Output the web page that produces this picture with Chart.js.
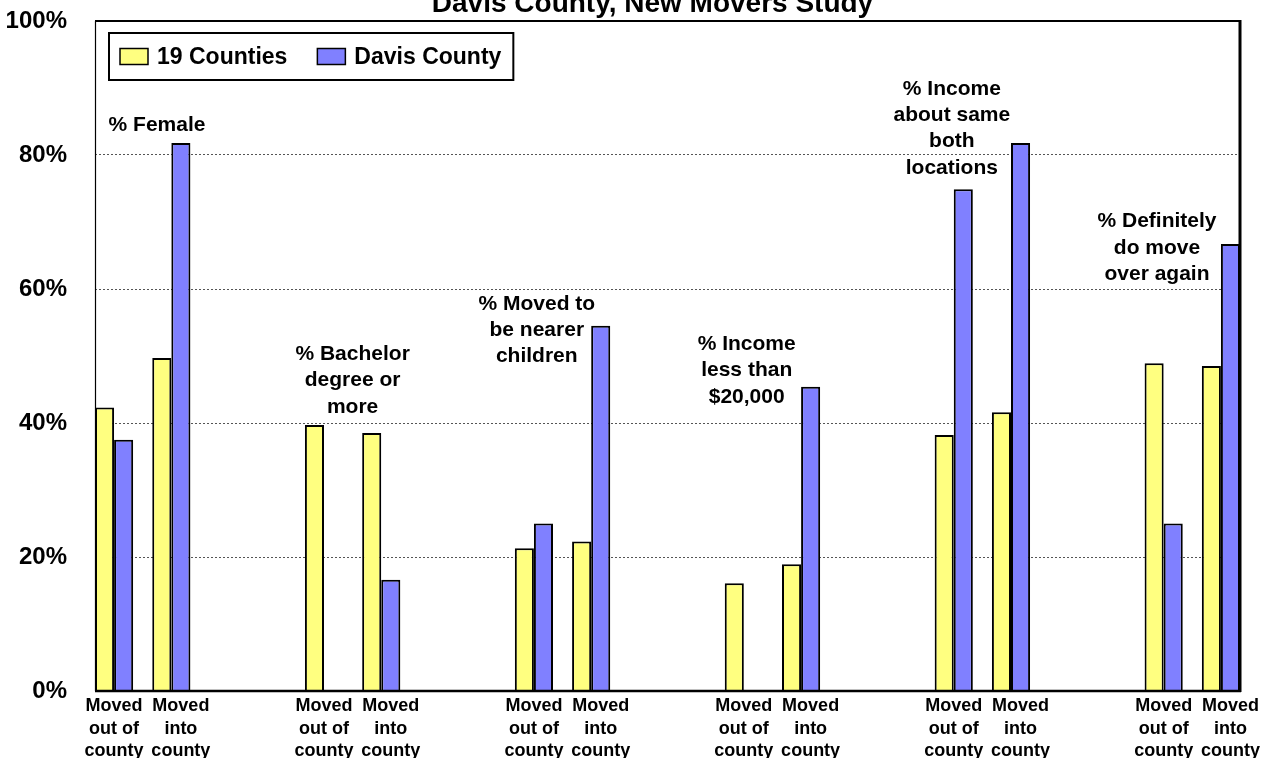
<!DOCTYPE html>
<html><head><meta charset="utf-8">
<script src="https://cdn.jsdelivr.net/npm/chart.js@4/dist/chart.umd.min.js"></script>
<style>html,body{margin:0;padding:0;background:#fff}#wrap{position:relative;width:1271px;height:758px}</style>
</head><body><div id="wrap"><canvas id="c"></canvas></div>
<script>
const chartTitle = 'Davis County, New Movers Study';
const seriesNames = ['19 Counties', 'Davis County'];
const seriesColors = ['#FFFF80', '#8080FF'];
const groupNotes = [
  ['% Female'],
  ['% Bachelor', 'degree or', 'more'],
  ['% Moved to', 'be nearer', 'children'],
  ['% Income', 'less than', '$20,000'],
  ['% Income', 'about same', 'both', 'locations'],
  ['% Definitely', 'do move', 'over again']
];
const categoryOut = ['Moved', 'out of', 'county'];
const categoryInto = ['Moved', 'into', 'county'];
const counties19Out  = [42.3, 39.7, 21.3, 16.1, 38.2, 48.9];
const davisOut       = [37.5, null, 25.0, null, 74.9, 25.0];
const counties19Into = [49.7, 38.5, 22.3, 18.9, 41.6, 48.5];
const davisInto      = [81.8, 16.6, 54.5, 45.4, 81.8, 66.7];
const yTickValues = [0, 20, 40, 60, 80, 100];

// slot layout of the category axis
const SLOTS_PER_GROUP = 22, OUT_SLOT = 2, INTO_SLOT = 8, INTO_LABEL_SLOT = 9, SLOT_COUNT = 121;
// note anchors: [slot position, value of first text baseline]
const noteAnchors = [[6.5, 83.6], [27.0, 49.4], [46.3, 56.9], [68.3, 50.9], [89.8, 89.0], [111.3, 69.2]];

const FONT = "'Liberation Sans', Arial, sans-serif";

const slotLabels = Array.from({length: SLOT_COUNT}, (_, i) => 's' + i);
const tickLabels = Array(SLOT_COUNT).fill('');
const data19 = Array(SLOT_COUNT).fill(null);
const dataDavis = Array(SLOT_COUNT).fill(null);
counties19Out.forEach((v, g) => {
  const s = OUT_SLOT + g * SLOTS_PER_GROUP;
  data19[s] = v; dataDavis[s] = davisOut[g]; tickLabels[s] = categoryOut;
});
counties19Into.forEach((v, g) => {
  const s = INTO_SLOT + g * SLOTS_PER_GROUP;
  data19[s] = v; dataDavis[s] = davisInto[g];
  tickLabels[INTO_LABEL_SLOT + g * SLOTS_PER_GROUP] = categoryInto;
});

const framePlugin = {
  id: 'frame',
  afterDatasetsDraw(chart) {
    const {ctx, chartArea: a} = chart;
    ctx.save();
    ctx.strokeStyle = '#000';
    const line = (x1, y1, x2, y2, w) => { ctx.lineWidth = w; ctx.beginPath(); ctx.moveTo(x1, y1); ctx.lineTo(x2, y2); ctx.stroke(); };
    line(a.left + 0.5, a.top, a.left + 0.5, a.bottom, 1.2);
    line(a.left, a.top, a.right, a.top, 2);
    line(a.right, a.top - 1, a.right, a.bottom + 1, 3);
    line(a.left, a.bottom, a.right + 1, a.bottom, 2.5);
    ctx.restore();
  }
};

const notesPlugin = {
  id: 'notes',
  afterDatasetsDraw(chart) {
    const {ctx} = chart;
    const xs = chart.scales.x, ys = chart.scales.y;
    ctx.save();
    ctx.fillStyle = '#000';
    ctx.font = 'bold 21px ' + FONT;
    ctx.textAlign = 'center';
    ctx.textBaseline = 'alphabetic';
    groupNotes.forEach((lines, i) => {
      const x = xs.getPixelForValue(noteAnchors[i][0]);
      const y = ys.getPixelForValue(noteAnchors[i][1]);
      lines.forEach((t, k) => ctx.fillText(t, x, y + k * 26.3));
    });
    ctx.restore();
  }
};

const legendPlugin = {
  id: 'boxLegend',
  afterDraw(chart) {
    const {ctx, chartArea: a} = chart;
    ctx.save();
    ctx.font = 'bold 23px ' + FONT;
    ctx.textBaseline = 'middle';
    ctx.textAlign = 'left';
    const bx = a.left + 14, by = a.top + 12, bh = 47;
    const cy = by + bh / 2;
    let x = bx + 11;
    const items = chart.data.datasets.map(d => ({label: d.label, color: d.backgroundColor}));
    const pos = [];
    items.forEach((it, i) => {
      pos.push(x);
      x += 28 + 9 + ctx.measureText(it.label).width;
      if (i < items.length - 1) x += 30;
    });
    const bw = x + 12 - bx;
    ctx.fillStyle = '#fff';
    ctx.fillRect(bx, by, bw, bh);
    ctx.lineWidth = 2;
    ctx.strokeStyle = '#000';
    ctx.strokeRect(bx, by, bw, bh);
    items.forEach((it, i) => {
      ctx.fillStyle = it.color;
      ctx.fillRect(pos[i], cy - 8, 28, 16);
      ctx.lineWidth = 1.5;
      ctx.strokeRect(pos[i], cy - 8, 28, 16);
      ctx.fillStyle = '#000';
      ctx.fillText(it.label, pos[i] + 37, cy + 1);
    });
    ctx.restore();
  }
};

const titlePlugin = {
  id: 'cutTitle',
  afterDraw(chart) {
    const {ctx, chartArea: a} = chart;
    ctx.save();
    ctx.font = 'bold 28px ' + FONT;
    ctx.fillStyle = '#000';
    ctx.textAlign = 'center';
    ctx.textBaseline = 'alphabetic';
    ctx.fillText(chartTitle, (a.left + a.right) / 2 - 15, 12);
    ctx.restore();
  }
};

new Chart(document.getElementById('c'), {
  type: 'bar',
  data: {
    labels: slotLabels,
    datasets: [
      {label: seriesNames[0], data: data19, backgroundColor: seriesColors[0], borderColor: '#000', borderWidth: 2, xAxisID: 'x'},
      {label: seriesNames[1], data: dataDavis, backgroundColor: seriesColors[1], borderColor: '#000', borderWidth: 2, xAxisID: 'x'}
    ]
  },
  options: {
    responsive: true,
    maintainAspectRatio: false,
    animation: false,
    layout: {padding: {top: 21, right: 31, left: 0, bottom: 0}},
    datasets: {bar: {categoryPercentage: 4, barPercentage: 1}},
    plugins: {legend: {display: false}, tooltip: {enabled: false}, title: {display: false}},
    scales: {
      x: {type: 'category', display: false, offset: false},
      xl: {
        type: 'category', position: 'bottom', labels: tickLabels, offset: false,
        grid: {display: false, drawTicks: false}, border: {display: false},
        ticks: {autoSkip: false, maxRotation: 0, minRotation: 0, padding: 4, color: '#000',
          font: {family: FONT, size: 18, weight: 'bold', lineHeight: 1.25}},
        afterFit(s) { s.height = 67; }
      },
      y: {
        min: 0, max: 100,
        afterBuildTicks(s) { s.ticks = yTickValues.map(v => ({value: v})); },
        ticks: {callback: v => v + '%', padding: 28, color: '#000',
          font: {family: FONT, size: 24, weight: 'bold'}},
        grid: {drawTicks: false, lineWidth: 1,
          color: c => (c.tick && (c.tick.value === 0 || c.tick.value === 100)) ? 'rgba(0,0,0,0)' : '#555'},
        border: {display: false, dash: [2, 2]},
        afterFit(s) { s.width = 95; s.paddingTop = 0; s.paddingBottom = 0; }
      }
    }
  },
  plugins: [framePlugin, notesPlugin, legendPlugin, titlePlugin]
});
</script>
</body></html>
